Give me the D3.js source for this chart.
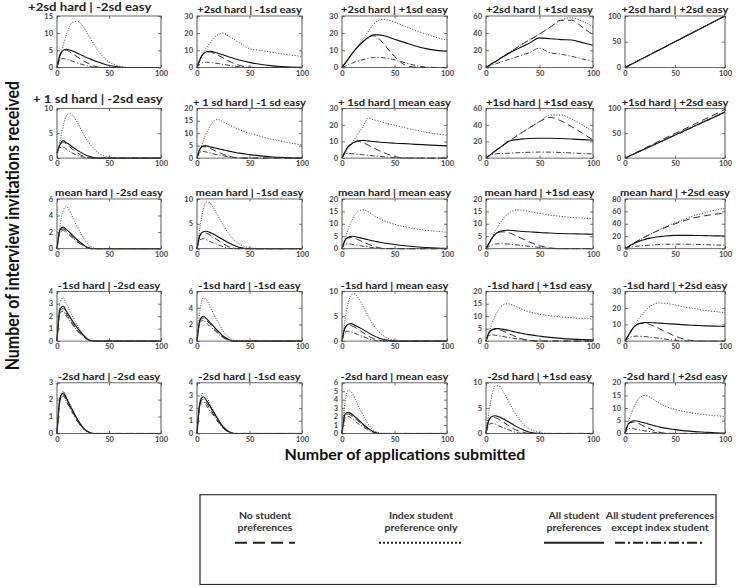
<!DOCTYPE html>
<html><head><meta charset="utf-8">
<script src="https://cdn.jsdelivr.net/npm/d3@7"></script>
<style>html,body{margin:0;padding:0;background:#fff;overflow:hidden}</style>
</head><body>
<svg id="chart" width="736" height="588" viewBox="0 0 736 662" preserveAspectRatio="none"></svg>
<script>
// ---------- DATA ----------
const xGrid = [0,3,6,9,12,15,20,25,30,35,40,50,60,70,80,90,100];
const xTicks = [0,50,100];

const panelTitles = [
  "+2sd hard | -2sd easy","+2sd hard | -1sd easy","+2sd hard | +1sd easy","+2sd hard | +1sd easy","+2sd hard | +2sd easy",
  "+ 1 sd hard | -2sd easy","+ 1 sd hard | -1 sd easy","+ 1sd hard | mean easy","+1sd hard | +1sd easy","+1sd hard | +2sd easy",
  "mean hard | -2sd easy","mean hard | -1sd easy","mean hard | mean easy","mean hard | +1sd easy","mean hard | +2sd easy",
  "-1sd hard | -2sd easy","-1sd hard | -1sd easy","-1sd hard | mean easy","-1sd hard | +1sd easy","-1sd hard | +2sd easy",
  "-2sd hard | -2sd easy","-2sd hard | -1sd easy","-2sd hard | mean easy","-2sd hard | +1sd easy","-2sd hard | +2sd easy"
];
const yMaxes = [15,30,30,60,100, 10,20,30,60,100, 6,10,20,20,80, 4,6,10,20,30, 3,4,6,10,20];
const yTickSteps = [5,10,10,20,50, 5,5,10,20,50, 2,5,5,5,20, 1,2,5,5,10, 1,1,1,5,5];

// "No student preferences" (dashed)
const noPref = [
  [0,3.6,4.8,5.0,4.6,4.0,3.0,2.0,1.2,0.5,0.1,0,0,0,0,0,0],
  [0,5,8,9,9.1,8.6,7.2,5.5,3.8,2.4,1.3,0.2,0,0,0,0,0],
  [0,2.5,5,7.5,10,12,15,17.5,18.5,17,13.5,6.5,1.5,0.2,0,0,0],
  [0,2.5,5,7,9.5,12,16,20,24,28,31.5,39,47,55,55,47,38],
  [0,3,6,9,12,15,20,25,30,35,40,50,60,70,80,90,100],
  [1,2.7,3.2,2.8,2.3,1.8,1.0,0.4,0.1,0,0,0,0,0,0,0,0],
  [0,3.7,4.6,4.5,4.0,3.4,2.4,1.5,0.8,0.3,0.1,0,0,0,0,0,0],
  [0,4,7,8.5,9.5,10,9.3,7.8,6.2,4.6,3.2,1,0.1,0,0,0,0],
  [0,3,6,9,11.8,14.5,19,23.5,28,32,36,44,49,45,38,30,22],
  [0,3,6,9,12,15,20,25,30,35,40,49.5,59,69,78.5,88,98],
  [0,2.2,2.4,2.1,1.8,1.4,0.8,0.4,0.1,0,0,0,0,0,0,0,0],
  [0,2.7,3.2,3.1,2.8,2.4,1.7,1.0,0.4,0.1,0,0,0,0,0,0,0],
  [0,3.4,4.4,4.5,4.2,3.7,2.7,1.8,1.0,0.4,0.1,0,0,0,0,0,0],
  [0,2.3,4.4,5.8,6.5,6.8,6.6,5.8,4.8,3.8,2.8,1.2,0.3,0,0,0,0],
  [0,3,6,9,12,14.5,19,23,27,30.5,34,40,45.5,50,53,55.5,57],
  [0,2.5,2.6,2.2,1.8,1.4,0.8,0.4,0.1,0,0,0,0,0,0,0,0],
  [0,2.5,2.8,2.5,2.1,1.7,1.0,0.5,0.1,0,0,0,0,0,0,0,0],
  [0,2.7,3.2,3.1,2.8,2.4,1.7,1.0,0.5,0.2,0,0,0,0,0,0,0],
  [0,3.4,4.5,4.8,4.6,4.2,3.3,2.3,1.4,0.7,0.3,0,0,0,0,0,0],
  [0,3,6,8.5,9.8,10.5,10.8,10,8.8,7.3,5.8,3,1,0.2,0,0,0],
  [0,2.0,2.3,2.0,1.6,1.3,0.7,0.3,0.1,0,0,0,0,0,0,0,0],
  [0,2.4,2.7,2.4,2.0,1.6,1.0,0.45,0.1,0,0,0,0,0,0,0,0],
  [0,2.1,2.3,2.1,1.8,1.5,1.0,0.5,0.15,0,0,0,0,0,0,0,0],
  [0,2.7,3.2,3.1,2.8,2.4,1.7,1.0,0.5,0.2,0,0,0,0,0,0,0],
  [0,3.4,4.4,4.5,4.2,3.7,2.7,1.8,1.0,0.4,0.1,0,0,0,0,0,0]
];
// "Index student preference only" (dotted)
const indexOnly = [
  [0,3,6.5,9.5,11.8,13.2,13.4,12,9.5,7,4.7,1.6,0.4,0,0,0,0],
  [0,4,8,11.5,14,16.5,19.2,20,18.3,16.5,14.7,11,10,9,8,7.2,6.5],
  [0,2.5,5,7.5,10,12.5,16.5,21,25,27.5,28,26.5,24,21.5,19.5,17.5,16],
  [0,2.5,5,7,9.5,12,16,20,24,28,31.5,39,47,55,58,54,47],
  [0,3,6,9,12,15,20,25,30,35,40,50,60,70,80,90,100],
  [0.5,3.5,6.5,8.5,9,8.6,7,5,3.3,2,1,0.2,0,0,0,0,0],
  [0,3.5,7,10,12.5,14.5,15.5,14.5,13.5,12.5,11.5,10,8.8,7.7,6.8,6,5.3],
  [0,3,6,8.6,11.5,14.4,19.2,24,23.2,22.3,21.4,19.8,18.3,16.9,15.6,14.6,13.8],
  [0,3,6,9,11.8,14.5,19,23.5,28,32,36,44,52,52,47,40,32],
  [0,2.8,5.6,8.4,11.2,14,18.8,23.5,28.2,33,37.6,47,56.4,65.8,75.2,84.6,94],
  [0,2.8,4.6,5.1,4.6,3.8,2.5,1.4,0.5,0.1,0,0,0,0,0,0,0],
  [0,4.5,8,9.4,9.3,8.4,6.6,4.7,3.1,1.8,1.0,0.2,0,0,0,0,0],
  [0,4,8,11,13.5,15,15.6,14.8,13.5,12.3,11.3,9.8,8.8,8,7.4,7,6.6],
  [0,2.5,5,7.5,9.5,11.5,13.8,15.2,15.6,15.4,15,14.2,13.5,13,12.6,12.3,12],
  [0,3,6,9,12,14.5,19,23,27,31,35,41.5,48,53.5,58,62,65],
  [0,3.1,3.5,3.0,2.5,2.0,1.2,0.6,0.2,0,0,0,0,0,0,0,0],
  [0,3.8,5.2,5.0,4.3,3.5,2.3,1.2,0.5,0.1,0,0,0,0,0,0,0],
  [0,4.5,7.8,9.3,9.5,8.8,7,5,3.2,1.9,1,0.2,0,0,0,0,0],
  [0,4,7.5,10.5,12.8,14.3,15,14.5,13.5,12.5,11.8,10.8,10.2,9.7,9.4,9.1,8.9],
  [0,3,6,9,12,14.5,18,20.8,22.5,23,22.8,21.8,20.5,19.5,18.5,17.8,17.2],
  [0,2.2,2.5,2.2,1.8,1.4,0.8,0.4,0.1,0,0,0,0,0,0,0,0],
  [0,2.6,3.2,2.9,2.4,1.9,1.2,0.6,0.2,0,0,0,0,0,0,0,0],
  [0,3.8,5.1,4.9,4.2,3.4,2.2,1.1,0.4,0.1,0,0,0,0,0,0,0],
  [0,4.5,8,9.4,9.4,8.6,6.8,4.8,3.1,1.8,1,0.2,0,0,0,0,0],
  [0,4,7.5,10.5,12.8,14.3,15,14.3,13,11.8,10.8,9.5,8.6,7.9,7.4,7,6.7]
];
// "All student preferences" (solid)
const allPref = [
  [0,3.8,5,5.3,5.1,4.8,4.1,3.4,2.7,2.1,1.5,0.6,0.15,0,0,0,0],
  [0,5,8,9.2,9.5,9.2,8.3,7.3,6.3,5.3,4.4,3,1.9,1.1,0.6,0.3,0.1],
  [0,2.5,5,7.5,10,12,15,17.5,19,19,18.5,16.5,14.5,12.5,11,10,9.5],
  [0,2.5,5,7,9.5,12,15.5,19,22,25,28,34.5,33.5,32.5,32,29,26],
  [0,3,6,9,12,15,20,25,30,35,40,50,60,70,80,90,100],
  [1,2.8,3.5,3.1,2.7,2.2,1.5,0.9,0.4,0.1,0,0,0,0,0,0,0],
  [0,3.8,4.9,4.9,4.6,4.3,3.8,3.3,2.8,2.4,2.0,1.4,0.9,0.5,0.3,0.1,0],
  [0,4,7,8.5,9.7,10.5,10.7,10.4,10,9.7,9.4,9,8.7,8.3,8,7.7,7.4],
  [0,3,6,9,11.8,14.5,19.5,21.5,22.5,23.2,23.6,24,24,23.6,23,22.3,21.5],
  [0,2.8,5.6,8.3,11.1,13.9,18.5,23.2,27.8,32.4,37,46.3,55.5,64.8,74,83.3,92.5],
  [0,2.3,2.6,2.3,2.0,1.6,1.0,0.5,0.1,0,0,0,0,0,0,0,0],
  [0,2.8,3.4,3.5,3.3,3.0,2.4,1.8,1.2,0.7,0.3,0,0,0,0,0,0],
  [0,3.5,4.6,5,4.9,4.6,4.1,3.6,3.1,2.7,2.3,1.7,1.2,0.8,0.5,0.3,0.2],
  [0,2.3,4.5,6,6.8,7.2,7.4,7.3,7.1,6.9,6.8,6.5,6.3,6.1,6,5.9,5.8],
  [0,3,6,8.5,10.5,12.5,15,17,18.5,19.5,20.5,21.5,21.5,21.3,21,20.7,20.5],
  [0,2.6,2.8,2.4,2.0,1.6,1.0,0.5,0.1,0,0,0,0,0,0,0,0],
  [0,2.6,3.0,2.7,2.3,1.9,1.2,0.6,0.2,0,0,0,0,0,0,0,0],
  [0,2.8,3.4,3.5,3.2,2.9,2.3,1.7,1.1,0.6,0.3,0,0,0,0,0,0],
  [0,3.5,4.6,5,5,4.8,4.4,3.9,3.4,3,2.6,2,1.5,1.1,0.8,0.6,0.5],
  [0,3,6,8.5,10,10.8,11.2,11.2,11,10.8,10.6,10.2,9.8,9.5,9.2,9,8.8],
  [0,2.1,2.4,2.1,1.7,1.35,0.8,0.35,0.1,0,0,0,0,0,0,0,0],
  [0,2.5,2.9,2.6,2.2,1.8,1.1,0.5,0.15,0,0,0,0,0,0,0,0],
  [0,2.3,2.5,2.3,2.0,1.7,1.1,0.6,0.2,0,0,0,0,0,0,0,0],
  [0,2.8,3.4,3.5,3.3,3.0,2.4,1.8,1.2,0.7,0.3,0,0,0,0,0,0],
  [0,3.5,4.6,5,4.9,4.6,4.1,3.5,3.0,2.5,2.1,1.5,1.0,0.7,0.5,0.3,0.2]
];
// "All student preferences except index student" (dash-dot)
const allExcept = [
  [0,2.3,2.6,2.4,2.1,1.8,1.3,0.8,0.4,0.1,0,0,0,0,0,0,0],
  [0,2,2.9,3.1,3,2.8,2.3,1.8,1.3,0.8,0.4,0,0,0,0,0,0],
  [0,0.8,1.6,2.4,3.1,3.7,4.6,5.3,5.8,5.9,5.6,4.5,2.8,1.2,0.3,0,0],
  [0,1.5,3,4.2,5.5,7,9,11,13,15,17,22.5,17,15.5,13,10,7],
  [0,3,6,9,12,15,20,25,30,35,40,50,60,70,80,90,100],
  [1,2.1,2.2,1.8,1.4,1.0,0.5,0.2,0,0,0,0,0,0,0,0,0],
  [0,2.4,2.7,2.4,2.1,1.8,1.3,0.9,0.5,0.2,0,0,0,0,0,0,0],
  [0,2.6,2.9,2.7,2.5,2.3,2.0,1.7,1.4,1.1,0.8,0.3,0,0,0,0,0],
  [0,2.5,4.3,5.2,5.5,5.6,5.8,6.2,6.5,6.8,7,7.3,7.2,6.8,6.2,5.6,5],
  [0,2.7,5.5,8.2,11,13.7,18.3,22.9,27.5,32,36.6,45.8,55,64,73.2,82.4,91.5],
  [0,2.0,2.2,1.9,1.6,1.3,0.8,0.4,0.1,0,0,0,0,0,0,0,0],
  [0,1.8,2.0,1.8,1.5,1.2,0.8,0.4,0.1,0,0,0,0,0,0,0,0],
  [0,1.8,2.0,1.8,1.6,1.4,1.0,0.7,0.4,0.2,0,0,0,0,0,0,0],
  [0,1,1.6,1.9,2,2,1.9,1.7,1.5,1.2,1,0.5,0.1,0,0,0,0],
  [0,1.5,2.7,3.5,4,4.5,5.2,5.8,6.3,6.7,7,7.3,7.2,7,6.5,6,5.5],
  [0,2.3,2.4,2.0,1.7,1.3,0.8,0.4,0.1,0,0,0,0,0,0,0,0],
  [0,2.3,2.5,2.2,1.8,1.5,0.9,0.4,0.1,0,0,0,0,0,0,0,0],
  [0,1.8,2.0,1.8,1.6,1.3,0.9,0.5,0.2,0,0,0,0,0,0,0,0],
  [0,2.2,2.5,2.3,2.1,1.9,1.5,1.1,0.8,0.5,0.3,0,0,0,0,0,0],
  [0,1.5,2.5,2.9,3,2.9,2.7,2.4,2,1.6,1.2,0.5,0.1,0,0,0,0],
  [0,1.9,2.2,1.9,1.55,1.2,0.7,0.3,0.05,0,0,0,0,0,0,0,0],
  [0,2.2,2.5,2.2,1.8,1.5,0.9,0.4,0.1,0,0,0,0,0,0,0,0],
  [0,1.8,2.0,1.8,1.5,1.2,0.8,0.4,0.1,0,0,0,0,0,0,0,0],
  [0,1.8,2.0,1.8,1.5,1.2,0.8,0.4,0.1,0,0,0,0,0,0,0,0],
  [0,1.8,2.0,1.8,1.6,1.4,1.0,0.7,0.4,0.2,0,0,0,0,0,0,0]
];

const legendLabels = [
  ["No student","preferences"],
  ["Index student","preference only"],
  ["All student","preferences"],
  ["All student preferences","except index student"]
];
const yAxisLabel = "Number of interview invitations received";
const xAxisLabel = "Number of applications submitted";

// ---------- LAYOUT / STYLE ----------
const colLeft  = [57,197,342,486,625];
const colRight = [161,302,447,593,725];
const rowTop    = [18,122,224,328,431];
const rowBottom = [76,178,280,384,488];
const FONT = "Lato, 'Open Sans', sans-serif";
const seriesStyles = [
  {data: noPref,    dash: "7,4",        width: 1.0, color: "#222"},
  {data: indexOnly, dash: "1.2,1.6",    width: 1.0, color: "#444"},
  {data: allPref,   dash: null,         width: 1.25, color: "#111"},
  {data: allExcept, dash: "5,2,1.2,2",  width: 1.0, color: "#333"}
];

const svg = d3.select("#chart");
svg.append("rect").attr("width",736).attr("height",662).attr("fill","#fff");

for (let i = 0; i < 25; i++) {
  const r = Math.floor(i/5), c = i % 5;
  const x = d3.scaleLinear().domain([0,100]).range([colLeft[c], colRight[c]]);
  const y = d3.scaleLinear().domain([0, yMaxes[i]]).range([rowBottom[r], rowTop[r]]);
  const yt = d3.range(0, yMaxes[i] + 1e-9, yTickSteps[i]);
  const g = svg.append("g");

  // title
  const big = (c === 0 && r < 2);
  g.append("text")
    .attr("x", big ? (r === 0 ? 28 : 33) : (colLeft[c] + colRight[c]) / 2)
    .attr("y", rowTop[r] - (big ? 6 : 3))
    .attr("text-anchor", big ? "start" : "middle")
    .attr("font-family", FONT).attr("font-weight", "bold")
    .attr("font-size", big ? 13.2 : 11.2)
    .attr("fill", "#222")
    .text(panelTitles[i]);

  // lines
  const line = d3.line().x((d,k) => x(xGrid[k])).y(d => y(d)).curve(d3.curveMonotoneX);
  seriesStyles.forEach(s => {
    g.append("path").attr("d", line(s.data[i]))
      .attr("fill","none").attr("stroke", s.color)
      .attr("stroke-width", s.width)
      .attr("stroke-dasharray", s.dash);
  });

  // axes
  const ax = (gen, tx, ty) => {
    const a = g.append("g").attr("transform", `translate(${tx},${ty})`).call(gen);
    a.select(".domain").remove();
    a.selectAll("line").attr("stroke","#444").attr("stroke-width",0.8);
    a.selectAll("text").attr("font-family", FONT).attr("font-size", 7.5)
      .attr("font-weight","bold").attr("fill","#444");
    return a;
  };
  ax(d3.axisBottom(x).tickValues(xTicks).tickSize(-3).tickSizeOuter(0).tickPadding(4), 0, rowBottom[r]);
  ax(d3.axisTop(x).tickValues(xTicks).tickSize(-3).tickSizeOuter(0).tickFormat(""), 0, rowTop[r]);
  ax(d3.axisLeft(y).tickValues(yt).tickSize(-3).tickSizeOuter(0).tickPadding(4).tickFormat(d3.format("d")), colLeft[c], 0);
  ax(d3.axisRight(y).tickValues(yt).tickSize(-3).tickSizeOuter(0).tickFormat(""), colRight[c], 0);

  g.append("rect")
    .attr("x", colLeft[c]).attr("y", rowTop[r])
    .attr("width", colRight[c]-colLeft[c]).attr("height", rowBottom[r]-rowTop[r])
    .attr("fill","none").attr("stroke","#444").attr("stroke-width",0.9);
}

// axis labels
svg.append("text")
  .attr("transform","translate(19,254) rotate(-90)")
  .attr("text-anchor","middle")
  .attr("font-family",FONT).attr("font-weight","bold").attr("font-size",18)
  .attr("fill","#111").text(yAxisLabel);
svg.append("text")
  .attr("x",405).attr("y",518)
  .attr("text-anchor","middle")
  .attr("font-family",FONT).attr("font-weight","bold").attr("font-size",16)
  .attr("fill","#111").text(xAxisLabel);

// legend
const lg = svg.append("g");
lg.append("rect").attr("x",200).attr("y",557).attr("width",516).attr("height",101)
  .attr("fill","none").attr("stroke","#222").attr("stroke-width",1.2);
const legCenters = [265, 421, 574, 660];
const legWidths = [60, 84, 60, 90];
legendLabels.forEach((lab, k) => {
  lab.forEach((t, j) => {
    lg.append("text").attr("x", legCenters[k]).attr("y", 584 + j*14)
      .attr("text-anchor","middle").attr("font-family",FONT).attr("font-weight","bold")
      .attr("font-size",10.5).attr("fill","#333").text(t);
  });
  lg.append("line")
    .attr("x1", legCenters[k] - legWidths[k]/2).attr("x2", legCenters[k] + legWidths[k]/2)
    .attr("y1", 611).attr("y2", 611)
    .attr("stroke", "#222").attr("stroke-width", 2.2)
    .attr("stroke-dasharray", k === 0 ? "12,6" : k === 1 ? "2,2" : k === 3 ? "10,3,2,3" : null);
});
</script>
</body></html>
